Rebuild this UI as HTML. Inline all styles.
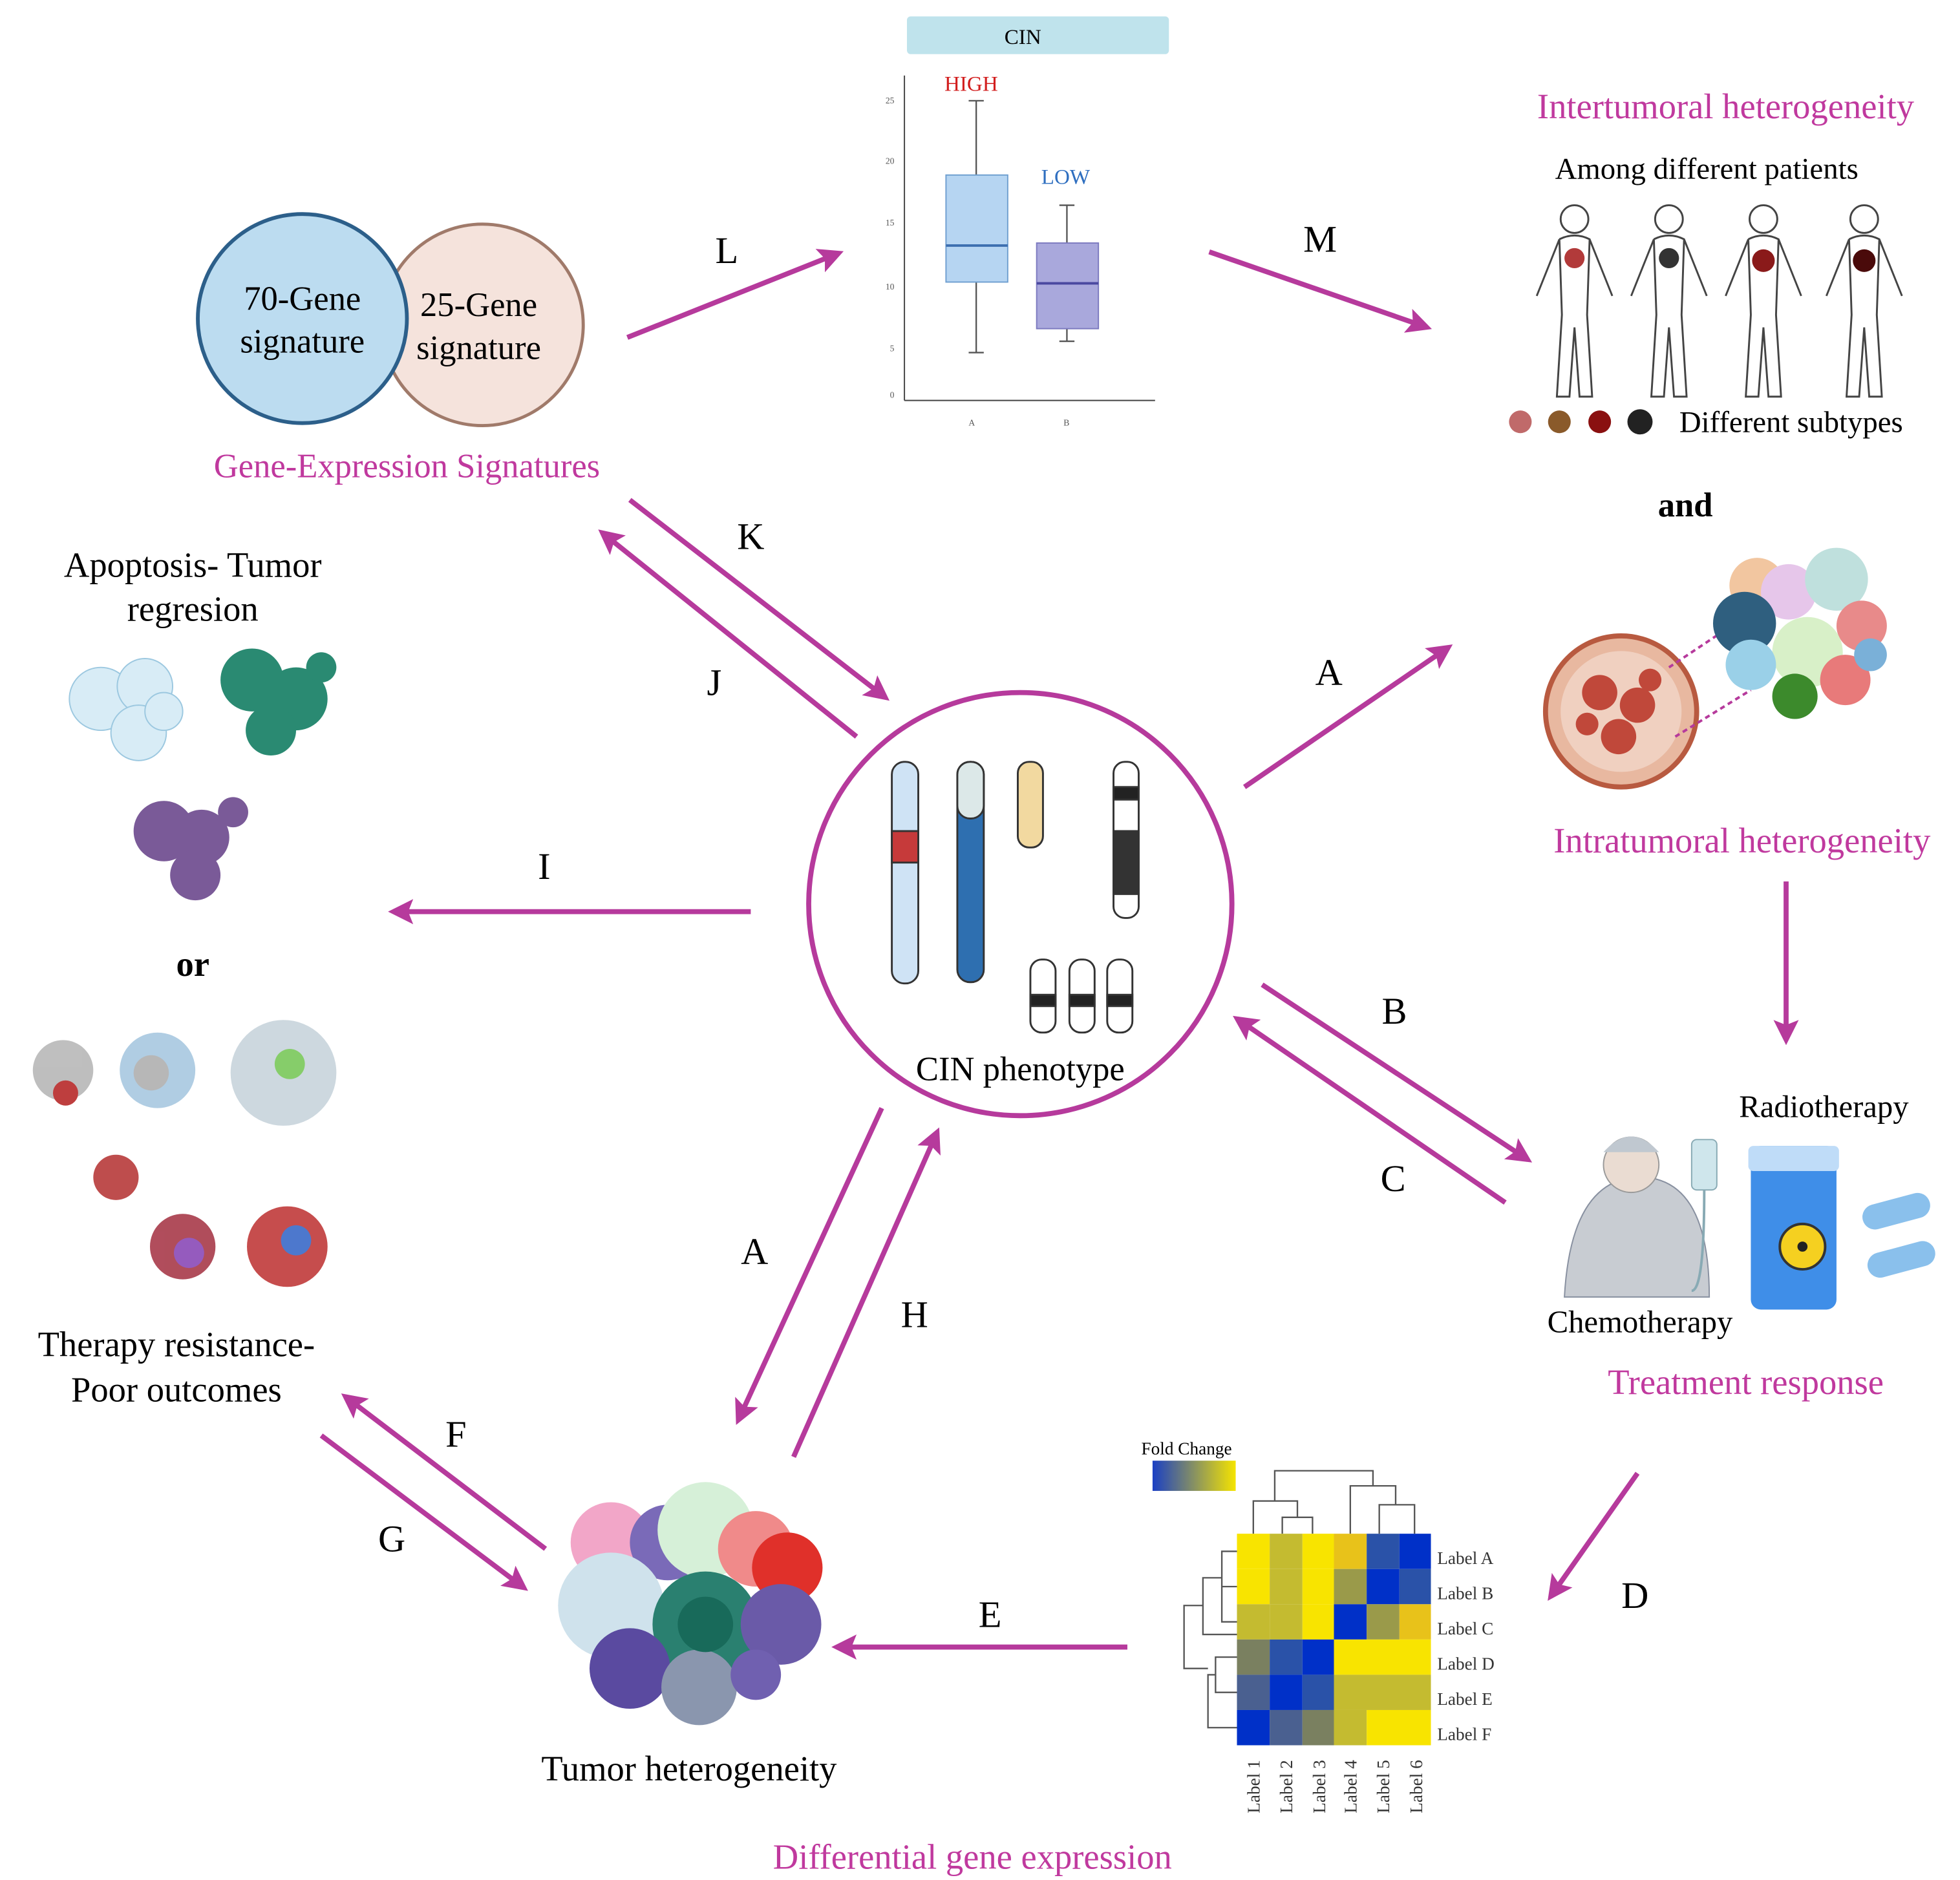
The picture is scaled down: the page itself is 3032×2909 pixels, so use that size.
<!DOCTYPE html>
<html><head><meta charset="utf-8"><style>
html,body{margin:0;padding:0;background:#fff}
svg{display:block}
text{font-family:"Liberation Serif",serif}
</style></head><body>
<svg width="3032" height="2909" viewBox="0 0 1556 1493" xmlns="http://www.w3.org/2000/svg">
<defs>
<marker id="ah" viewBox="0 0 10 10" refX="8" refY="5" markerWidth="5" markerHeight="5" orient="auto"><path d="M0,0 L10,5 L0,10 L2,5 z" fill="#b63a9c"/></marker>
<g id="hum" fill="#fff" stroke="#444" stroke-width="1.5">
<circle cx="0" cy="174" r="11"/>
<path d="M-12,190 q12,-6 24,0 l18,45 M-12,190 l-18,45 M-12,190 l2,60 l-4,65 h10 l4,-55 l4,55 h10 l-4,-65 l2,-60"/>
</g>
</defs>
<rect width="1556" height="1493" fill="#fff"/>

<rect x="720" y="13" width="208" height="30" rx="3" fill="#bfe3ec"/>
<text x="812" y="35" font-size="17" text-anchor="middle">CIN</text>
<g stroke="#444" stroke-width="1" fill="none">
<line x1="718" y1="60" x2="718" y2="318"/><line x1="718" y1="318" x2="917" y2="318"/>
</g>
<g font-size="7" fill="#555" text-anchor="end">
<text x="710" y="82">25</text><text x="710" y="130">20</text><text x="710" y="179">15</text><text x="710" y="230">10</text><text x="710" y="279">5</text><text x="710" y="316">0</text>
<text x="774" y="338">A</text><text x="849" y="338">B</text>
</g>
<g stroke="#555" stroke-width="1.2">
<line x1="775" y1="80" x2="775" y2="280"/><line x1="769" y1="80" x2="781" y2="80"/><line x1="769" y1="280" x2="781" y2="280"/>
<line x1="847" y1="163" x2="847" y2="271"/><line x1="841" y1="163" x2="853" y2="163"/><line x1="841" y1="271" x2="853" y2="271"/>
</g>
<rect x="751" y="139" width="49" height="85" fill="#b6d5f2" stroke="#6f9fd0"/>
<line x1="751" y1="195" x2="800" y2="195" stroke="#3d6fb0" stroke-width="2"/>
<rect x="823" y="193" width="49" height="68" fill="#a9a8dc" stroke="#7c7ac0"/>
<line x1="823" y1="225" x2="872" y2="225" stroke="#4a48a0" stroke-width="2"/>
<text x="771" y="72" font-size="17" fill="#d21e1e" text-anchor="middle">HIGH</text>
<text x="846" y="146" font-size="17" fill="#2f6fc0" text-anchor="middle">LOW</text>

<circle cx="383" cy="258" r="80" fill="#f5e3dc" stroke="#a07a6a" stroke-width="2.5"/>
<circle cx="240" cy="253" r="83" fill="#bcdcf0" stroke="#2c5f8a" stroke-width="3"/>
<text x="240" y="246" font-size="27" text-anchor="middle">70-Gene</text>
<text x="240" y="280" font-size="27" text-anchor="middle">signature</text>
<text x="380" y="251" font-size="27" text-anchor="middle">25-Gene</text>
<text x="380" y="285" font-size="27" text-anchor="middle">signature</text>
<text x="323" y="379" font-size="27" fill="#c0399e" text-anchor="middle">Gene-Expression Signatures</text>

<g stroke="#b63a9c" stroke-width="4" marker-end="url(#ah)">
<line x1="498" y1="268" x2="666" y2="201"/>
<line x1="960" y1="200" x2="1133" y2="260"/>
<line x1="500" y1="397" x2="703" y2="554"/>
<line x1="680" y1="585" x2="478" y2="423"/>
<line x1="596" y1="724" x2="312" y2="724"/>
<line x1="988" y1="625" x2="1150" y2="514"/>
<line x1="1002" y1="782" x2="1213" y2="921"/>
<line x1="1195" y1="955" x2="982" y2="809"/>
<line x1="700" y1="880" x2="586" y2="1128"/>
<line x1="630" y1="1157" x2="744" y2="899"/>
<line x1="433" y1="1230" x2="274" y2="1109"/>
<line x1="255" y1="1140" x2="416" y2="1261"/>
<line x1="895" y1="1308" x2="664" y2="1308"/>
<line x1="1300" y1="1170" x2="1231" y2="1268"/>
<line x1="1418" y1="700" x2="1418" y2="826"/>
</g>
<g font-size="30" text-anchor="middle">
<text x="577" y="209">L</text><text x="1048" y="200">M</text><text x="596" y="436">K</text><text x="567" y="552">J</text>
<text x="432" y="698">I</text><text x="1055" y="544">A</text><text x="1107" y="813">B</text><text x="1106" y="946">C</text>
<text x="599" y="1004">A</text><text x="726" y="1054">H</text><text x="362" y="1149">F</text><text x="311" y="1232">G</text>
<text x="786" y="1292">E</text><text x="1298" y="1277">D</text>
</g>

<circle cx="810" cy="718" r="168" fill="#fff" stroke="#b63a9c" stroke-width="4"/>
<g stroke="#333" stroke-width="1.5">
<rect x="708" y="605" width="21" height="176" rx="10" fill="#cfe3f5"/>
<rect x="708" y="660" width="21" height="25" fill="#c63a3a"/>
<rect x="760" y="605" width="21" height="175" rx="10" fill="#2e6fb0"/>
<rect x="760" y="605" width="21" height="45" rx="10" fill="#dce8e8"/>
<rect x="808" y="605" width="20" height="68" rx="9" fill="#f2d9a0"/>
<rect x="884" y="605" width="20" height="124" rx="9" fill="#fff"/>
<rect x="884" y="625" width="20" height="10" fill="#222"/><rect x="884" y="660" width="20" height="50" fill="#333"/>
<rect x="818" y="762" width="20" height="58" rx="9" fill="#fff"/>
<rect x="849" y="762" width="20" height="58" rx="9" fill="#fff"/>
<rect x="879" y="762" width="20" height="58" rx="9" fill="#fff"/>
<rect x="818" y="790" width="20" height="9" fill="#222"/><rect x="849" y="790" width="20" height="9" fill="#222"/><rect x="879" y="790" width="20" height="9" fill="#222"/>
</g>
<text x="810" y="858" font-size="27" text-anchor="middle">CIN phenotype</text>

<text x="1370" y="94" font-size="28" fill="#c0399e" text-anchor="middle">Intertumoral heterogeneity</text>
<text x="1355" y="142" font-size="24" text-anchor="middle">Among different patients</text>
<use href="#hum" x="1250"/><use href="#hum" x="1325"/><use href="#hum" x="1400"/><use href="#hum" x="1480"/>
<circle cx="1250" cy="205" r="8" fill="#b23a3a"/><circle cx="1325" cy="205" r="8" fill="#333"/><circle cx="1400" cy="207" r="9" fill="#8a1a1a"/><circle cx="1480" cy="207" r="9" fill="#4a0a0a"/>
<circle cx="1207" cy="335" r="9" fill="#c06a6a"/><circle cx="1238" cy="335" r="9" fill="#8a5a2a"/><circle cx="1270" cy="335" r="9" fill="#8a1010"/><circle cx="1302" cy="335" r="10" fill="#222"/>
<text x="1422" y="343" font-size="24" text-anchor="middle">Different subtypes</text>
<text x="1338" y="410" font-size="27" font-weight="bold" text-anchor="middle">and</text>

<circle cx="1287" cy="565" r="60" fill="#e8b8a0" stroke="#b85a40" stroke-width="4"/>
<circle cx="1287" cy="565" r="48" fill="#f0d0c0"/>
<g fill="#c0483a"><circle cx="1270" cy="550" r="14"/><circle cx="1300" cy="560" r="14"/><circle cx="1285" cy="585" r="14"/><circle cx="1260" cy="575" r="9"/><circle cx="1310" cy="540" r="9"/></g>
<path d="M1325,530 L1370,500 M1330,585 L1390,548" stroke="#b63a9c" stroke-dasharray="4,3" stroke-width="2"/>
<circle cx="1395" cy="465" r="22" fill="#f2c6a0"/><circle cx="1420" cy="470" r="22" fill="#e6c6ea"/><circle cx="1458" cy="460" r="25" fill="#bfe0dd"/><circle cx="1478" cy="497" r="20" fill="#e88a8a"/><circle cx="1385" cy="495" r="25" fill="#2f5f7f"/><circle cx="1435" cy="518" r="28" fill="#d8f0c8"/><circle cx="1390" cy="528" r="20" fill="#9ad0e8"/><circle cx="1425" cy="553" r="18" fill="#3c8a2c"/><circle cx="1465" cy="540" r="20" fill="#e87a7a"/><circle cx="1485" cy="520" r="13" fill="#7ab0d8"/>
<text x="1383" y="677" font-size="28" fill="#c0399e" text-anchor="middle">Intratumoral heterogeneity</text>

<text x="1448" y="887" font-size="25" text-anchor="middle">Radiotherapy</text>
<path d="M1242,1030 q5,-90 55,-95 h10 q50,5 50,95 z" fill="#c8ccd2" stroke="#8890a0"/>
<circle cx="1295" cy="925" r="22" fill="#eadcd2" stroke="#999"/>
<path d="M1273,915 q22,-25 44,0" fill="#c0c8d0"/>
<rect x="1343" y="905" width="20" height="40" rx="4" fill="#cfe6ec" stroke="#88aab4"/>
<path d="M1353,945 q0,80 -10,80" stroke="#88aab4" fill="none" stroke-width="2"/>
<rect x="1390" y="910" width="68" height="130" rx="8" fill="#3f8ee8"/>
<rect x="1388" y="910" width="72" height="20" rx="4" fill="#bfdcf8"/>
<circle cx="1431" cy="990" r="18" fill="#f5d020" stroke="#333" stroke-width="2"/>
<circle cx="1431" cy="990" r="4" fill="#222"/>
<rect x="1478" y="952" width="55" height="20" rx="10" fill="#8ac0ec" transform="rotate(-15 1505 962)"/>
<rect x="1482" y="990" width="55" height="20" rx="10" fill="#8ac0ec" transform="rotate(-15 1510 1000)"/>
<text x="1302" y="1058" font-size="25" text-anchor="middle">Chemotherapy</text>
<text x="1386" y="1107" font-size="28" fill="#c0399e" text-anchor="middle">Treatment response</text>

<text x="942" y="1155" font-size="14" text-anchor="middle">Fold Change</text>
<linearGradient id="fc" x1="0" x2="1"><stop offset="0" stop-color="#1a3fc4"/><stop offset="1" stop-color="#f5e400"/></linearGradient>
<rect x="915" y="1160" width="66" height="24" fill="url(#fc)"/>
<g>
<rect x="982" y="1218" width="26" height="28" fill="#f8e400"/><rect x="1008" y="1218" width="26" height="28" fill="#c4bb30"/><rect x="1034" y="1218" width="25" height="28" fill="#f8e400"/><rect x="1059" y="1218" width="26" height="28" fill="#e8c21a"/><rect x="1085" y="1218" width="26" height="28" fill="#2a52a8"/><rect x="1111" y="1218" width="25" height="28" fill="#0030c8"/>
<rect x="982" y="1246" width="26" height="28" fill="#f8e400"/><rect x="1008" y="1246" width="26" height="28" fill="#c4bb30"/><rect x="1034" y="1246" width="25" height="28" fill="#f8e400"/><rect x="1059" y="1246" width="26" height="28" fill="#9a9a4a"/><rect x="1085" y="1246" width="26" height="28" fill="#0030c8"/><rect x="1111" y="1246" width="25" height="28" fill="#2a52a8"/>
<rect x="982" y="1274" width="26" height="28" fill="#c4bb30"/><rect x="1008" y="1274" width="26" height="28" fill="#c4bb30"/><rect x="1034" y="1274" width="25" height="28" fill="#f8e400"/><rect x="1059" y="1274" width="26" height="28" fill="#0030c8"/><rect x="1085" y="1274" width="26" height="28" fill="#9a9a4a"/><rect x="1111" y="1274" width="25" height="28" fill="#e8c21a"/>
<rect x="982" y="1302" width="26" height="28" fill="#7a8060"/><rect x="1008" y="1302" width="26" height="28" fill="#2a52a8"/><rect x="1034" y="1302" width="25" height="28" fill="#0030c8"/><rect x="1059" y="1302" width="77" height="28" fill="#f8e400"/>
<rect x="982" y="1330" width="26" height="28" fill="#4a6090"/><rect x="1008" y="1330" width="26" height="28" fill="#0030c8"/><rect x="1034" y="1330" width="25" height="28" fill="#2a52a8"/><rect x="1059" y="1330" width="77" height="28" fill="#c4bb30"/>
<rect x="982" y="1358" width="26" height="28" fill="#0030c8"/><rect x="1008" y="1358" width="26" height="28" fill="#4a6090"/><rect x="1034" y="1358" width="25" height="28" fill="#7a8060"/><rect x="1059" y="1358" width="26" height="28" fill="#c4bb30"/><rect x="1085" y="1358" width="51" height="28" fill="#f8e400"/>
</g>
<g stroke="#555" stroke-width="1.2" fill="none">
<path d="M995,1218 V1192 H1030 V1205 M1018,1218 V1205 H1042 V1218 M1012,1192 V1168 H1090 V1180 M1072,1218 V1180 H1108 V1195 M1095,1218 V1195 H1123 V1218"/>
<path d="M982,1232 H970 V1288 H982 M982,1260 H970 M970,1253 H955 V1298 H982 M955,1275 H940 V1325 H959 M982,1316 H965 V1344 H982 M965,1330 H959 V1372 H982"/>
</g>
<g font-size="14" fill="#333">
<text x="1141" y="1242">Label A</text><text x="1141" y="1270">Label B</text><text x="1141" y="1298">Label C</text><text x="1141" y="1326">Label D</text><text x="1141" y="1354">Label E</text><text x="1141" y="1382">Label F</text>
</g>
<g font-size="14" fill="#333">
<text transform="translate(1000,1440) rotate(-90)">Label 1</text><text transform="translate(1026,1440) rotate(-90)">Label 2</text><text transform="translate(1052,1440) rotate(-90)">Label 3</text><text transform="translate(1077,1440) rotate(-90)">Label 4</text><text transform="translate(1103,1440) rotate(-90)">Label 5</text><text transform="translate(1129,1440) rotate(-90)">Label 6</text>
</g>
<text x="772" y="1484" font-size="28" fill="#c0399e" text-anchor="middle">Differential gene expression</text>

<circle cx="485" cy="1225" r="32" fill="#f2a6c8"/><circle cx="530" cy="1225" r="30" fill="#7a6ab8"/><circle cx="560" cy="1215" r="38" fill="#d6f0d8"/><circle cx="600" cy="1230" r="30" fill="#f08a8a"/><circle cx="625" cy="1245" r="28" fill="#e0302a"/><circle cx="485" cy="1275" r="42" fill="#cfe2ec"/><circle cx="560" cy="1290" r="42" fill="#2a8070"/><circle cx="620" cy="1290" r="32" fill="#6a5aa8"/><circle cx="500" cy="1325" r="32" fill="#5a4aa0"/><circle cx="555" cy="1340" r="30" fill="#8a96ae"/><circle cx="600" cy="1330" r="20" fill="#7060b0"/><circle cx="560" cy="1290" r="22" fill="#186a5a"/>
<text x="547" y="1414" font-size="28" text-anchor="middle">Tumor heterogeneity</text>

<text x="153" y="458" font-size="28" text-anchor="middle">Apoptosis- Tumor</text>
<text x="153" y="493" font-size="28" text-anchor="middle">regresion</text>
<g fill="#d8ecf6" stroke="#9cc8e0"><circle cx="80" cy="555" r="25"/><circle cx="115" cy="545" r="22"/><circle cx="110" cy="582" r="22"/><circle cx="130" cy="565" r="15"/></g>
<g fill="#2a8a72"><circle cx="200" cy="540" r="25"/><circle cx="235" cy="555" r="25"/><circle cx="215" cy="580" r="20"/><circle cx="255" cy="530" r="12"/></g>
<g fill="#7a5a98"><circle cx="130" cy="660" r="24"/><circle cx="160" cy="665" r="22"/><circle cx="155" cy="695" r="20"/><circle cx="185" cy="645" r="12"/></g>
<text x="153" y="775" font-size="28" font-weight="bold" text-anchor="middle">or</text>
<g opacity="0.9">
<circle cx="50" cy="850" r="24" fill="#b8b8b8"/><circle cx="52" cy="868" r="10" fill="#b82a2a"/>
<circle cx="125" cy="850" r="30" fill="#a8c8e0"/><circle cx="120" cy="852" r="14" fill="#b0b0b0"/>
<circle cx="225" cy="852" r="42" fill="#c8d4dc"/><circle cx="230" cy="845" r="12" fill="#7ac85a"/>
<circle cx="92" cy="935" r="18" fill="#b83a3a"/>
<circle cx="145" cy="990" r="26" fill="#a83a4a"/><circle cx="150" cy="995" r="12" fill="#8a4ab8"/>
<circle cx="228" cy="990" r="32" fill="#c03a3a"/><circle cx="235" cy="985" r="12" fill="#3a6ac8"/>
</g>
<text x="140" y="1077" font-size="28" text-anchor="middle">Therapy resistance-</text>
<text x="140" y="1113" font-size="28" text-anchor="middle">Poor outcomes</text>
</svg>
</body></html>
